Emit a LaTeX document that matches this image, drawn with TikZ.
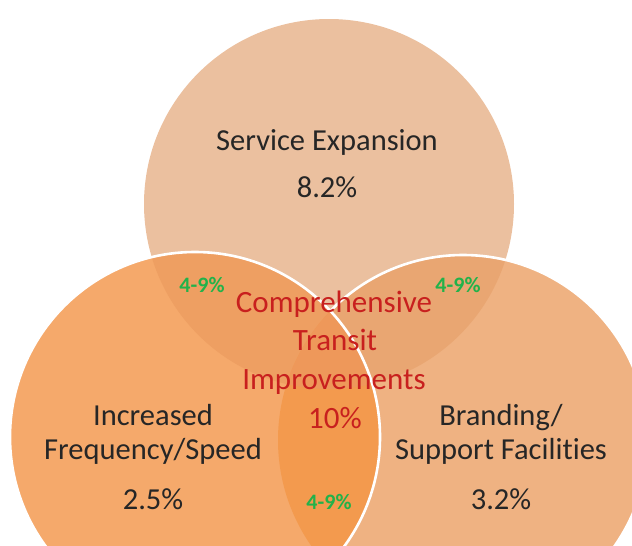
\documentclass[tikz,border=0pt]{standalone}
\usepackage{fontspec}
\setmainfont{Carlito}[Ligatures={NoCommon}]
\definecolor{cT}{HTML}{EBC09F}
\definecolor{cR}{HTML}{EFB282}
\definecolor{cL}{HTML}{F5A96B}
\definecolor{cTR}{HTML}{E9A672}
\definecolor{cLT}{HTML}{EE9F62}
\definecolor{cLR}{HTML}{F39A4E}
\definecolor{cC}{HTML}{EE985A}
\definecolor{txt}{HTML}{262626}
\definecolor{redtxt}{HTML}{C8201E}
\definecolor{greentxt}{HTML}{22B24A}
\tikzset{
  lbl/.style={anchor=base, inner sep=0pt, text=txt, font=\fontsize{30.5}{36}\selectfont},
  redlbl/.style={anchor=base, inner sep=0pt, text=redtxt, font=\fontsize{31}{36}\selectfont},
  grn/.style={anchor=base, inner sep=0pt, text=greentxt, font=\fontsize{22}{26}\selectfont\bfseries},
  rim/.style={draw=white, line width=2.6pt}
}
\begin{document}
\begin{tikzpicture}[x=1pt,y=-1pt]
\useasboundingbox (0,0) rectangle (632,546);
\clip (0,0) rectangle (632,546);
\def\T{(329,204) circle (185)}
\def\R{(463,440) circle (185)}
\def\L{(195,437) circle (185)}
% top
\fill[cT] \T;
% right
\fill[cR] \R;
\begin{scope}\clip \T; \fill[cTR] \R; \end{scope}
\draw[rim] \R;
% left
\fill[cL] \L;
\begin{scope}\clip \L; \fill[cLT] \T; \end{scope}
\begin{scope}\clip \L; \fill[cLR] \R; \end{scope}
\begin{scope}\clip \L; \clip \T; \fill[cC] \R; \end{scope}
\draw[rim] \L;
% labels
\node[lbl] (se1) at (327,150) {Service Expansion};
\node[lbl] (se2) at (327,197) {8.2\%};
\node[lbl] (if1) at (153,425) {Increased};
\node[lbl] (if2) at (153,459) {Frequency/Speed};
\node[lbl] (if3) at (153,509) {2.5\%};
\node[lbl] (bs1) at (501,425) {Branding/};
\node[lbl] (bs2) at (501,459) {Support Facilities};
\node[lbl] (bs3) at (501,509) {3.2\%};
\node[redlbl] (ct1) at (334,312) {Comprehensive};
\node[redlbl] (ct2) at (335,350) {Transit};
\node[redlbl] (ct3) at (334,389) {Improvements};
\node[redlbl] (ct4) at (335,428) {10\%};
\node[grn] (g1) at (202,292) {4-9\%};
\node[grn] (g2) at (458,292) {4-9\%};
\node[grn] (g3) at (329,509) {4-9\%};
\end{tikzpicture}
\end{document}
